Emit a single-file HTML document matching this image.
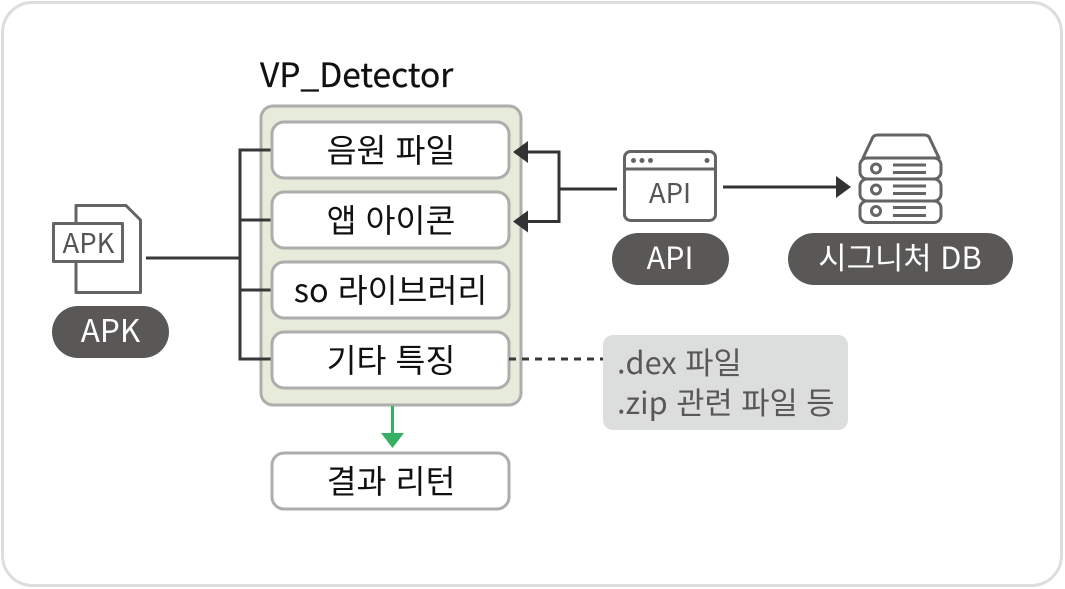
<!DOCTYPE html>
<html lang="ko"><head><meta charset="utf-8"><style>
html,body{margin:0;padding:0;background:#fff}
svg{display:block}
text{font-family:"Noto Sans CJK KR","Liberation Sans",sans-serif}
</style></head><body>
<svg width="1065" height="589" viewBox="0 0 1065 589" xmlns="http://www.w3.org/2000/svg">
<rect x="2.5" y="2.5" width="1059" height="583" rx="30" fill="#fff" stroke="#dcdddd" stroke-width="3"/>
<!-- panel -->
<rect x="261" y="106" width="260" height="299" rx="12" fill="#e6ebda" stroke="#adadad" stroke-width="3"/>
<!-- bracket left -->
<path d="M240 148.500V360.500M238.500 150H274M240 220H274M240 290H274M238.500 359H274M146 258H240" fill="none" stroke="#383838" stroke-width="3"/>
<g fill="#fff" stroke="#adadad" stroke-width="3">
<rect x="272" y="122" width="237" height="56" rx="12"/>
<rect x="272" y="192" width="237" height="56" rx="12"/>
<rect x="272" y="262" width="237" height="56" rx="12"/>
<rect x="272" y="332" width="237" height="56" rx="12"/>
<rect x="272" y="453" width="237" height="56" rx="12"/>
</g>
<text x="260" y="87" font-size="33.5" fill="#111" stroke="#111" stroke-width="0.3">VP_Detector</text>
<g font-size="32.5" fill="#111" text-anchor="middle">
<text x="391" y="162">음원 파일</text>
<text x="391" y="232">앱 아이콘</text>
<text x="390.500" y="302">so 라이브러리</text>
<text x="391" y="372">기타 특징</text>
<text x="391" y="493">결과 리턴</text>
</g>
<!-- green arrow -->
<path d="M392.500 406V436" stroke="#35b062" stroke-width="3" fill="none"/>
<path d="M381 433H404L392.500 448Z" fill="#35b062"/>
<!-- APK icon -->
<path d="M76 205.500H126L140.500 220V292.500H76Z" fill="#fff" stroke="#646464" stroke-width="3" stroke-linejoin="round"/>
<rect x="53.500" y="223.500" width="69" height="38" fill="#fff" stroke="#646464" stroke-width="3" stroke-linejoin="round"/>
<text x="88.500" y="253" font-size="27.5" fill="#555" text-anchor="middle">APK</text>
<!-- pills -->
<rect x="52" y="306" width="117" height="52" rx="26" fill="#595857"/>
<text x="110.500" y="342" font-size="31.500" fill="#fff" text-anchor="middle">APK</text>
<rect x="612" y="233" width="117" height="52" rx="26" fill="#595857"/>
<text x="670" y="269" font-size="30.500" fill="#fff" text-anchor="middle">API</text>
<rect x="788" y="233" width="225" height="52" rx="26" fill="#595857"/>
<text x="900" y="269" font-size="30.800" fill="#fff" text-anchor="middle">시그니처 DB</text>
<!-- API connector -->
<path d="M617 189H559M525 152H559V221.500H525" fill="none" stroke="#333" stroke-width="3"/>
<path d="M513 152L528 141V163Z M513 221.500L528 210.500V232.500Z" fill="#333"/>
<!-- API icon -->
<rect x="624.500" y="151.500" width="91" height="69" rx="6" fill="#fff" stroke="#646464" stroke-width="3"/>
<path d="M625 169H715" stroke="#646464" stroke-width="3"/>
<g fill="#646464"><circle cx="633.500" cy="160.500" r="2.500"/><circle cx="642" cy="160.500" r="2.500"/><circle cx="650.500" cy="160.500" r="2.500"/><circle cx="707" cy="160.500" r="2.500"/></g>
<text x="670" y="203" font-size="27.5" fill="#555" text-anchor="middle">API</text>
<!-- DB arrow -->
<path d="M723 187H840" stroke="#333" stroke-width="3" fill="none"/>
<path d="M851 187L836 176V198Z" fill="#333"/>
<!-- DB icon -->
<g fill="#fff" stroke="#646464" stroke-width="3" stroke-linejoin="round">
<path d="M863 158L872 139Q873 135 878 135H924Q929 135 930 139L939 158Z"/>
<rect x="860" y="158" width="81" height="21" rx="7"/>
<rect x="860" y="179" width="81" height="22" rx="7"/>
<rect x="860" y="201" width="81" height="21.500" rx="7"/>
<circle cx="876" cy="168.500" r="4.500"/><circle cx="876" cy="189.500" r="4.500"/><circle cx="876" cy="211" r="4.500"/>
<path d="M893 165H926M893 172.500H926M893 186H926M893 193.500H926M893 207.500H926M893 215.500H926" fill="none"/>
</g>
<!-- dashed -->
<path d="M509 359H604" stroke="#383838" stroke-width="3" stroke-dasharray="7 6" fill="none"/>
<!-- note -->
<rect x="603" y="335" width="245" height="95" rx="10" fill="#dcdddd"/>
<g font-size="30.700" fill="#595857">
<text x="617" y="374">.dex 파일</text>
<text x="617" y="414">.zip 관련 파일 등</text>
</g>
</svg>
</body></html>
